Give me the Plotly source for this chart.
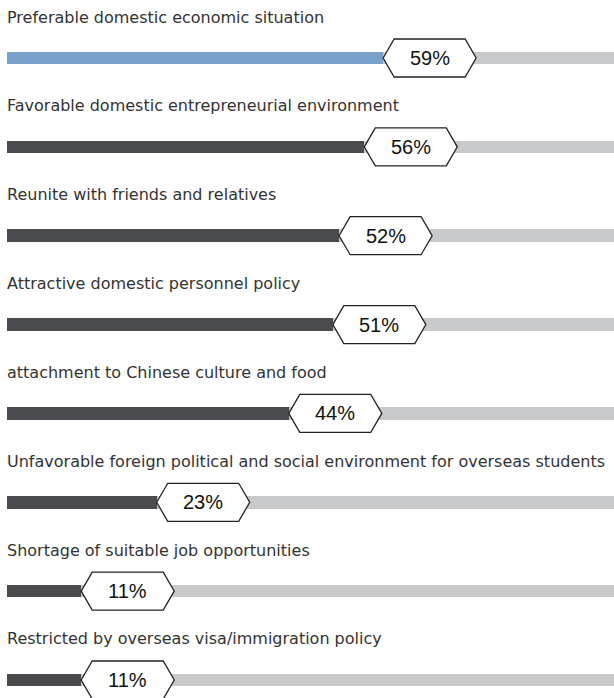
import plotly.graph_objects as go

# Reasons for returning to China (share of respondents, %)
categories = [
    "Preferable domestic economic situation",
    "Favorable domestic entrepreneurial environment",
    "Reunite with friends and relatives",
    "Attractive domestic personnel policy",
    "attachment to Chinese culture and food",
    "Unfavorable foreign political and social environment for overseas students",
    "Shortage of suitable job opportunities",
    "Restricted by overseas visa/immigration policy",
]
values = [59, 56, 52, 51, 44, 23, 11, 11]
labels = ["59%", "56%", "52%", "51%", "44%", "23%", "11%", "11%"]

W, H = 614, 698
XMIN, XMAX = -0.8, 95.7          # visible span of the value axis
ROW_PX = 88.83                   # vertical distance between rows
TOP_PX, BOTTOM_PX = 58, 18       # first bar centre / space under last bar
n = len(categories)
ys = [-i for i in range(n)]
y_range = [-(n - 1) - BOTTOM_PX / ROW_PX, TOP_PX / ROW_PX]
bar_w = 12.6 / ROW_PX

HIGHLIGHT = "#78a2cb"
DARK = "#4a4b4f"
TRACK = "#c8c9ca"

fig = go.Figure()

# grey track spanning the whole row
fig.add_trace(go.Bar(
    y=ys, x=[200 - XMIN] * n, base=[XMIN] * n, orientation="h",
    width=bar_w, marker=dict(color=TRACK, line=dict(width=0)),
    hoverinfo="skip", showlegend=False,
))
# value fill
fig.add_trace(go.Bar(
    y=ys, x=[v - XMIN for v in values], base=[XMIN] * n, orientation="h",
    width=bar_w,
    marker=dict(color=[HIGHLIGHT] + [DARK] * (n - 1), line=dict(width=0)),
    customdata=values, hovertemplate="%{customdata}%<extra></extra>",
    showlegend=False,
))

# hexagonal value badge anchored at the end of each fill
hexagon = "M 0,0 L 11,19 L 82,19 L 93,0 L 82,-19 L 11,-19 Z"
for y, v, lab, cat in zip(ys, values, labels, categories):
    fig.add_shape(
        type="path", path=hexagon,
        xref="x", yref="y", xsizemode="pixel", ysizemode="pixel",
        xanchor=v, yanchor=y,
        fillcolor="white", line=dict(color="#222222", width=1.3),
        layer="above",
    )
    fig.add_annotation(
        x=v, y=y, xref="x", yref="y", xshift=46.5, yshift=0,
        text=lab, showarrow=False, xanchor="center", yanchor="middle",
        font=dict(family="Liberation Sans, Arial, sans-serif", size=20, color="#111111"),
    )
    fig.add_annotation(
        x=XMIN, y=y + 41 / ROW_PX, xref="x", yref="y", xshift=-2,
        text=cat, showarrow=False, xanchor="left", yanchor="middle",
        font=dict(family="DejaVu Sans, sans-serif", size=16, color="#333333"),
    )

fig.update_layout(
    width=W, height=H,
    margin=dict(l=0, r=0, t=0, b=0),
    paper_bgcolor="white", plot_bgcolor="white",
    barmode="overlay", bargap=0,
    xaxis=dict(range=[XMIN - 7 * (XMAX - XMIN) / 607, XMAX], visible=False, fixedrange=True),
    yaxis=dict(range=y_range, visible=False, fixedrange=True),
)

fig.write_html("out.html")
